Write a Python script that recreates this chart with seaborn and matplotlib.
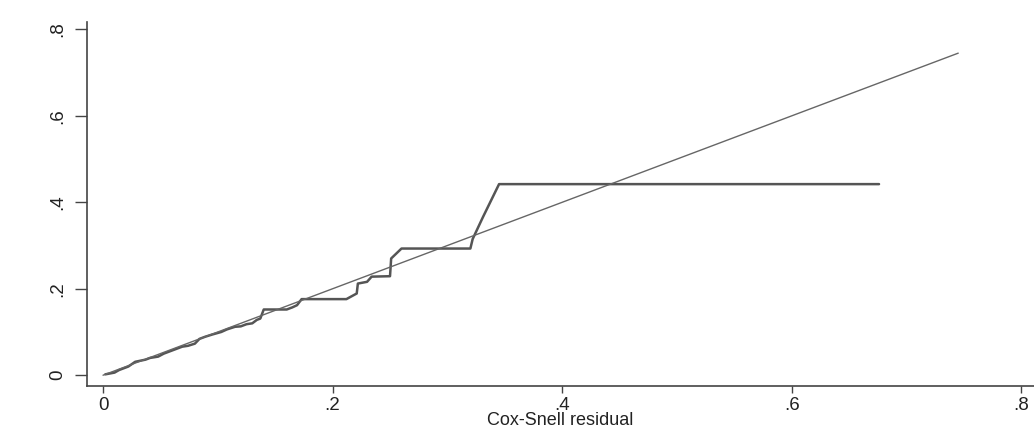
import pandas as pd
import matplotlib
matplotlib.use("Agg")
import matplotlib.pyplot as plt
import seaborn as sns

# Nelson-Aalen cumulative hazard of the Cox-Snell residuals
cs_resid = [0.002, 0.010, 0.014, 0.022, 0.028, 0.037, 0.041, 0.048, 0.053, 0.057,
            0.063, 0.069, 0.074, 0.080, 0.084, 0.089, 0.095, 0.103, 0.108, 0.115,
            0.120, 0.125, 0.130, 0.134, 0.137, 0.140, 0.160, 0.165, 0.169, 0.173,
            0.212, 0.221, 0.222, 0.230, 0.234, 0.250, 0.251, 0.260, 0.320, 0.322,
            0.331, 0.345, 0.676]
cum_hazard = [0.002, 0.006, 0.012, 0.020, 0.031, 0.036, 0.040, 0.043, 0.050, 0.054,
              0.060, 0.066, 0.068, 0.073, 0.084, 0.089, 0.094, 0.100, 0.106, 0.112,
              0.113, 0.118, 0.120, 0.128, 0.131, 0.152, 0.152, 0.157, 0.162, 0.176,
              0.176, 0.189, 0.212, 0.216, 0.228, 0.229, 0.270, 0.293, 0.293, 0.315,
              0.366, 0.442, 0.442]

# 45 degree reference line
ref_x = [0.0, 0.745]
ref_y = [0.0, 0.745]

x_ticks = [0, 0.2, 0.4, 0.6, 0.8]
y_ticks = [0, 0.2, 0.4, 0.6, 0.8]
tick_labels = ["0", ".2", ".4", ".6", ".8"]

df = pd.DataFrame({"resid": cs_resid, "H": cum_hazard})
ref = pd.DataFrame({"x": ref_x, "y": ref_y})

sns.set_style("white")
plt.rcParams["font.family"] = ["Liberation Sans", "DejaVu Sans"]

fig = plt.figure(figsize=(10.34, 4.30), dpi=100)
ax = fig.add_axes([0.0841, 0.1023, 0.9159, 0.8465])

sns.lineplot(data=df, x="resid", y="H", sort=False, color="#555555",
             linewidth=1.8, ax=ax)
sns.lineplot(data=ref, x="x", y="y", sort=False, color="#666666",
             linewidth=1.0, ax=ax)

ax.set_xlim(-0.014, 0.811)
ax.set_ylim(-0.025, 0.817)
ax.set_xticks(x_ticks)
ax.set_xticklabels(tick_labels)
ax.set_yticks(y_ticks)
ax.set_yticklabels(tick_labels, rotation=90, va="center")
ax.tick_params(axis="x", bottom=True, direction="out", length=5, width=1,
               color="#444444", labelsize=13.5, pad=3, labelcolor="#222222")
ax.tick_params(axis="y", left=True, direction="out", length=9, width=1,
               color="#444444", labelsize=13.5, pad=6, labelcolor="#222222")
ax.set_xlabel("Cox-Snell residual", fontsize=13, color="#222222")
ax.xaxis.set_label_coords(0.5, -0.072)
ax.set_ylabel("")

sns.despine(ax=ax)
for side in ["left", "bottom"]:
    ax.spines[side].set_color("#444444")
    ax.spines[side].set_linewidth(1.2)

fig.savefig("out.png", dpi=100)
plt.close(fig)
